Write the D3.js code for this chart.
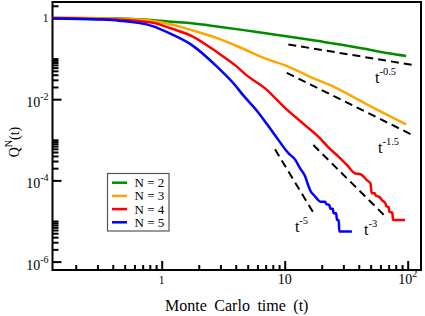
<!DOCTYPE html>
<html><head><meta charset="utf-8">
<script src="https://cdn.jsdelivr.net/npm/d3@7"></script>
<style>
body{margin:0;background:#fff}
svg{display:block}
text{font-family:"Liberation Serif","Times New Roman",serif;fill:#000}
</style>
</head><body>
<svg id="chart" width="425" height="316"></svg>
<script>
// ---------------- data ----------------
const seriesNames = ["N = 2", "N = 3", "N = 4", "N = 5"];
const seriesColors = ["#008b00", "#ffa500", "#ff0000", "#0000ff"];

const timeN2 = [0.13,0.3,0.45,0.83,1.2,1.76,2.9,4.5,7,10,18.8,30,50,70,97];
const qN2    = [1.0,0.99,0.97,0.89,0.81,0.74,0.61,0.51,0.42,0.36,0.27,0.216,0.163,0.135,0.116];

const timeN3 = [0.13,0.3,0.45,0.83,1.2,1.76,2.9,4.5,7,10,17,25.6,40,47.7,60,97];
const qN3    = [1.0,0.98,0.95,0.86,0.69,0.50,0.31,0.18,0.10,0.069,0.033,0.0196,0.0096,0.0072,0.005,0.0024];

const timeN4 = [0.13,0.3,0.45,0.83,1.2,1.76,2.9,3.94,5,7,10,14.6,18.2,19.9,23,27.5,32,37.5,40,42.5,46.5,49.7,51,54,55,58,60,62,64,66,67,70,71,75,76,95];
const qN4    = [0.995,0.95,0.91,0.77,0.55,0.36,0.135,0.069,0.037,0.018,0.0062,0.0023,0.0013,0.001,6.2e-4,3.8e-4,2.4e-4,1.48e-4,1.45e-4,1.35e-4,1.02e-4,8.5e-5,4.8e-5,4.8e-5,4.2e-5,4.0e-5,3.7e-5,3.2e-5,3.0e-5,2.7e-5,2.3e-5,2.2e-5,1.7e-5,1.6e-5,1.06e-5,1.06e-5];

const timeN5 = [0.13,0.3,0.45,0.83,1.2,1.76,2.9,3.94,4.5,6,8.34,10.7,12.2,13.3,14.7,15.7,16.1,17.7,18.5,19.5,21.3,21.8,23,23.5,24.6,25,26.2,26.6,27.5,27.8,35.2];
const qN5    = [0.97,0.92,0.86,0.64,0.40,0.215,0.058,0.0224,0.0135,0.005,0.0013,4.7e-4,3.2e-4,2.0e-4,1.23e-4,6.9e-5,5.7e-5,4.0e-5,3.4e-5,3.0e-5,3.0e-5,2.6e-5,2.5e-5,2.0e-5,2.0e-5,1.55e-5,1.55e-5,1.06e-5,1.06e-5,5.5e-6,5.5e-6];

// power-law guide lines Q = A * t^-p
const guideExponents  = [0.5, 1.5, 3, 5];
const guideExpLabels  = ["-0.5", "-1.5", "-3", "-5"];
const guideAmplitudes = [0.73, 1.50, 3.71, 23.5];
const guideTStart     = [10.7, 10.4, 17.1, 8.34];
const guideTEnd       = [108, 112.5, 67.5, 17.1];

// axis ticks
const xMajorTicks = [1, 10, 100];
const xTickBase   = ["1", "10", "10"];
const xTickExp    = ["", "", "2"];
const yMajorTicks = [1, 1e-2, 1e-4, 1e-6];
const yTickBase   = ["1", "10", "10", "10"];
const yTickExp    = ["", "-2", "-4", "-6"];

const xLabel = "Monte Carlo time (t)";

// ---------------- layout ----------------
const svg = d3.select("#chart");
const L = 52.5, R = 421, T = 2, B = 270;

const x = d3.scaleLog().domain([0.1294, 128.3]).range([L, R]);
const y = d3.scaleLog().domain([Math.pow(10, -6.207), Math.pow(10, 0.394)]).range([B, T]);

svg.append("defs").append("clipPath").attr("id", "clip")
  .append("rect").attr("x", L).attr("y", T).attr("width", R - L).attr("height", B - T);

// minor ticks
const xMinor = [];
[-1, 0, 1].forEach(e => { for (let k = 2; k <= 9; k++) { const v = k * Math.pow(10, e); if (v > x.domain()[0] && v < x.domain()[1]) xMinor.push(v); } });
const yMinor = [];
[-6, -4, -2, 0].forEach(e => { for (let k = 2; k <= 10; k++) { const v = k * Math.pow(10, e); if (v > y.domain()[0] && v < y.domain()[1]) yMinor.push(v); } });

const axX = svg.append("g").attr("transform", `translate(0,${B})`);
axX.append("g").call(d3.axisBottom(x).tickValues(xMinor).tickSize(-5).tickFormat(""));
axX.append("g").call(d3.axisBottom(x).tickValues(xMajorTicks).tickSize(-9).tickFormat(""));
const axY = svg.append("g").attr("transform", `translate(${L},0)`);
axY.append("g").call(d3.axisLeft(y).tickValues(yMinor).tickSize(-6).tickFormat(""));
axY.append("g").call(d3.axisLeft(y).tickValues(yMajorTicks).tickSize(-9).tickFormat(""));
svg.selectAll(".domain").remove();
svg.selectAll(".tick line").attr("stroke", "#000").attr("stroke-width", 2);

// frame
svg.append("rect").attr("x", L).attr("y", T).attr("width", R - L).attr("height", B - T)
  .attr("fill", "none").attr("stroke", "#000").attr("stroke-width", 2);

// x tick labels
xMajorTicks.forEach((v, i) => {
  const t = svg.append("text").attr("x", x(v)).attr("y", 283.5).attr("text-anchor", "middle")
    .style("font-size", xTickBase[i] === "1" ? "11.5px" : "14px");
  t.append("tspan").text(xTickBase[i]);
  if (xTickExp[i]) t.append("tspan").attr("dy", -7).style("font-size", "10px").text(xTickExp[i]);
});
// y tick labels
yMajorTicks.forEach((v, i) => {
  if (!yTickExp[i]) {
    svg.append("text").attr("x", 48.5).attr("y", y(v) + 4.5).attr("text-anchor", "end")
      .style("font-size", "11.5px").text(yTickBase[i]);
  } else {
    const t = svg.append("text").attr("x", 48.5).attr("y", y(v) + 8).attr("text-anchor", "end")
      .style("font-size", "14px");
    t.append("tspan").text(yTickBase[i]);
    t.append("tspan").attr("dy", -7).style("font-size", "10px").text(yTickExp[i]);
  }
});

// axis titles
svg.append("text").attr("x", (L + R) / 2).attr("y", 311).attr("text-anchor", "middle")
  .style("font-size", "16px").style("word-spacing", "3.5px").text(xLabel);
const yt = svg.append("text").attr("transform", "translate(19,142) rotate(-90)")
  .attr("text-anchor", "middle").style("font-size", "14px");
yt.append("tspan").text("Q");
yt.append("tspan").attr("dy", -7).style("font-size", "10px").text("N");
yt.append("tspan").attr("dy", 7).text("(t)");

// curves
const allTimes = [timeN2, timeN3, timeN4, timeN5];
const allQ = [qN2, qN3, qN4, qN5];
const line = d3.line().x(d => x(d[0])).y(d => y(d[1])).curve(d3.curveMonotoneX);
const plot = svg.append("g").attr("clip-path", "url(#clip)");
allTimes.forEach((ts, i) => {
  const pts = ts.map((t, j) => [t, allQ[i][j]]);
  plot.append("path").datum(pts).attr("d", line)
    .attr("fill", "none").attr("stroke", seriesColors[i]).attr("stroke-width", 2.5)
    .attr("stroke-linejoin", "round");
});

// guide lines
guideExponents.forEach((p, i) => {
  const pts = [guideTStart[i], guideTEnd[i]].map(t => [t, guideAmplitudes[i] * Math.pow(t, -p)]);
  plot.append("path").datum(pts).attr("d", d3.line().x(d => x(d[0])).y(d => y(d[1])))
    .attr("fill", "none").attr("stroke", "#000").attr("stroke-width", 2)
    .attr("stroke-dasharray", "8,5");
});
// guide labels (anchored in data coordinates)
const guideLabelT = [54.2, 57.4, 44.1, 12.1];
const guideLabelQ = [0.0251, 4.73e-4, 4.52e-6, 5.36e-6];
guideExponents.forEach((p, i) => {
  const t = svg.append("text").attr("x", x(guideLabelT[i])).attr("y", y(guideLabelQ[i]))
    .style("font-size", "16px");
  t.append("tspan").text("t");
  t.append("tspan").attr("dy", -8).style("font-size", "10.5px").text(guideExpLabels[i]);
});

// legend
const lg = svg.append("g");
lg.append("rect").attr("x", 107.5).attr("y", 173.5).attr("width", 61.5).attr("height", 57.5)
  .attr("fill", "#fff").attr("stroke", "#555").attr("stroke-width", 1.2);
seriesNames.forEach((n, i) => {
  const yy = 182.7 + i * 13.2;
  lg.append("line").attr("x1", 112).attr("x2", 127).attr("y1", yy).attr("y2", yy)
    .attr("stroke", seriesColors[i]).attr("stroke-width", 2.5);
  lg.append("text").attr("x", 134.5).attr("y", yy + 4.5).style("font-size", "13px").text(n);
});
</script>
</body></html>
